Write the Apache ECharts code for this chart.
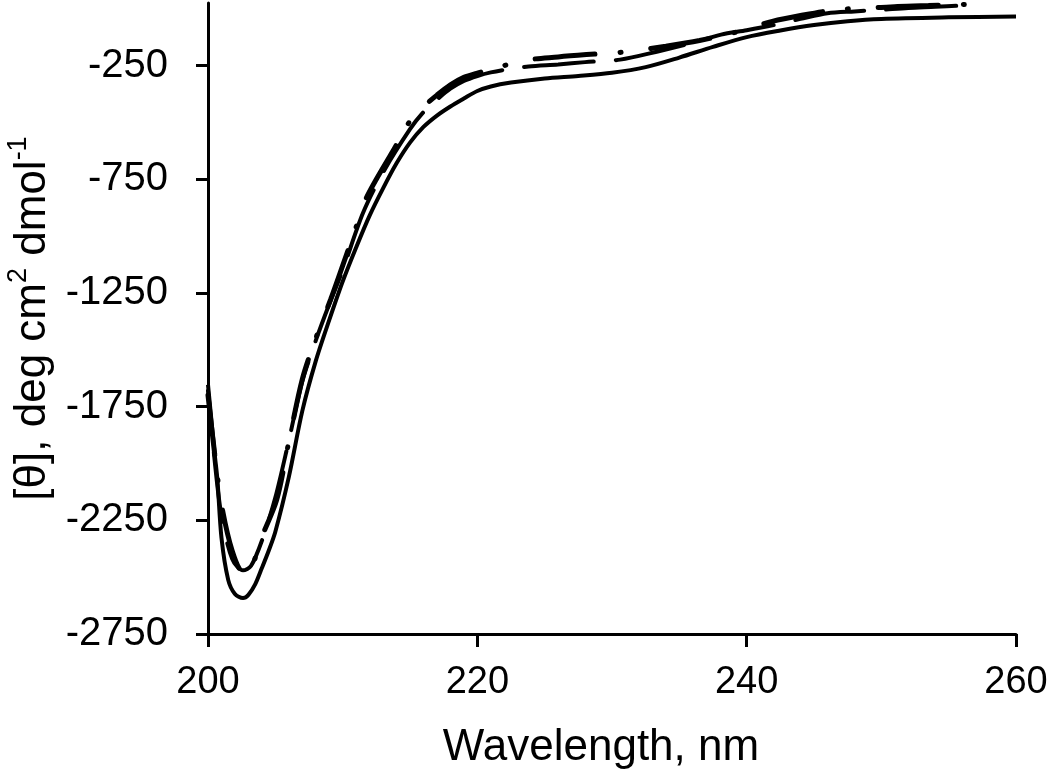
<!DOCTYPE html>
<html>
<head>
<meta charset="utf-8">
<script src="https://cdn.jsdelivr.net/npm/echarts@6/dist/echarts.min.js"></script>
<style>
  html, body { margin: 0; padding: 0; background: #fff; }
  #chart { width: 1050px; height: 783px; }
</style>
</head>
<body>
<div id="chart"></div>
<script>
// ---- Data ----
const xTicks = [200, 220, 240, 260];
const yTicks = [-2750, -2250, -1750, -1250, -750, -250];

const solidWl = [200, 200.5, 200.7, 201, 201.5, 202, 202.6, 203, 203.5, 204, 204.5, 205, 206, 207, 208, 209, 210, 211, 212, 213, 214, 215, 216, 217, 218, 219, 220, 221, 222.5, 225, 227.5, 230, 232.5, 235, 237.5, 240, 242.5, 245, 247.5, 250, 255, 260];
const solidVal = [-1654, -1960, -2072, -2327, -2512, -2574, -2592, -2578, -2532, -2460, -2385, -2300, -2060, -1770, -1550, -1370, -1200, -1050, -910, -790, -680, -589, -520, -470, -430, -395, -362, -342, -325, -307, -296, -282, -257, -215, -168, -125, -96, -72, -55, -45, -38, -34];

const dashDotWl = [200, 200.5, 201, 201.8, 202.6, 203.2, 204, 205.1, 206, 207, 208, 209.1, 210, 211, 211.7, 212.5, 213.7, 215.2, 216, 217, 218, 219, 220, 221, 222, 223.3, 226, 228.1, 231, 234, 236.5, 239.1, 241.9, 244, 246.7, 249, 251.2, 253.5, 256.2, 257.7];
const dashDotVal = [-1700, -1960, -2180, -2385, -2477, -2460, -2323, -2160, -1905, -1630, -1450, -1280, -1130, -960, -840, -750, -629, -475, -430, -380, -335, -302, -283, -268, -250, -228, -212, -202, -190, -165, -140, -105, -56, -30, -4, 2, 10, 14, 18, 10];

const dashWl = [200, 200.5, 201, 201.8, 202.6, 203.2, 204, 205, 206, 207, 208, 209, 210, 211.5, 213, 215, 216, 217, 218, 219, 220, 221, 222.5, 223.8, 226, 228, 230.6, 233.4, 236, 238.1, 240, 242, 244, 246, 248, 250, 252, 254, 256];
const dashVal = [-1680, -1990, -2230, -2420, -2470, -2450, -2340, -2150, -1900, -1640, -1460, -1300, -1150, -900, -720, -530, -455, -400, -352, -318, -296, -280, -264, -254, -245, -235, -224, -188, -150, -114, -95, -72, -45, -20, -12, -5, 3, 8, 14];

const pairs = (xs, ys) => xs.map((x, i) => [x, ys[i]]);

const FONT = '"Liberation Sans", Arial, Helvetica, sans-serif';

const chart = echarts.init(document.getElementById('chart'), null, { renderer: 'canvas' });
chart.setOption({
  backgroundColor: '#ffffff',
  animation: false,
  grid: { left: 208, right: 34, top: 3, bottom: 149, containLabel: false, outerBoundsMode: 'none' },
  xAxis: {
    type: 'value',
    min: 200, max: 260, interval: 20,
    axisLine: { show: true, onZero: false, lineStyle: { color: '#000', width: 3 } },
    axisTick: { show: true, length: 13, lineStyle: { color: '#000', width: 3 }, customValues: xTicks },
    axisLabel: { customValues: xTicks, color: '#000', fontSize: 38, fontFamily: FONT, margin: 30, formatter: v => String(v) },
    splitLine: { show: false },
    name: 'Wavelength, nm',
    nameLocation: 'middle',
    nameGap: 92,
    nameTextStyle: { color: '#000', fontSize: 44, fontFamily: FONT, padding: [0, 22, 0, 0] }
  },
  yAxis: {
    type: 'value',
    min: -2750, max: 25,
    axisLine: { show: true, onZero: false, lineStyle: { color: '#000', width: 3 } },
    axisTick: { show: true, length: 12, lineStyle: { color: '#000', width: 3 }, customValues: yTicks },
    axisLabel: { customValues: yTicks, color: '#000', fontSize: 40, fontFamily: FONT, margin: 40, formatter: v => String(v) },
    splitLine: { show: false },
    name: '{m|[θ], deg cm}{s|2}{m| dmol}{s|-1}',
    nameLocation: 'middle',
    nameRotate: 90,
    nameGap: 150,
    nameTextStyle: {
      color: '#000', fontFamily: FONT, fontSize: 44,
      rich: {
        m: { fontSize: 44, fontFamily: FONT, color: '#000', lineHeight: 50, verticalAlign: 'bottom' },
        s: { fontSize: 27, fontFamily: FONT, color: '#000', lineHeight: 50, verticalAlign: 'top' }
      }
    }
  },
  series: [
    {
      type: 'line', name: 'solid', data: pairs(solidWl, solidVal),
      showSymbol: false, symbol: 'none', smooth: 0.3,
      lineStyle: { color: '#000', width: 4, type: 'solid' }
    },
    {
      type: 'line', name: 'dash-dot', data: pairs(dashDotWl, dashDotVal),
      showSymbol: false, symbol: 'none', smooth: 0.3,
      lineStyle: { color: '#000', width: 5, type: [60, 25, 1, 30], cap: 'round' }
    },
    {
      type: 'line', name: 'dash', data: pairs(dashWl, dashVal),
      showSymbol: false, symbol: 'none', smooth: 0.3,
      lineStyle: { color: '#000', width: 4, type: [70, 22], cap: 'round', dashOffset: 30 }
    }
  ]
});
</script>
</body>
</html>
